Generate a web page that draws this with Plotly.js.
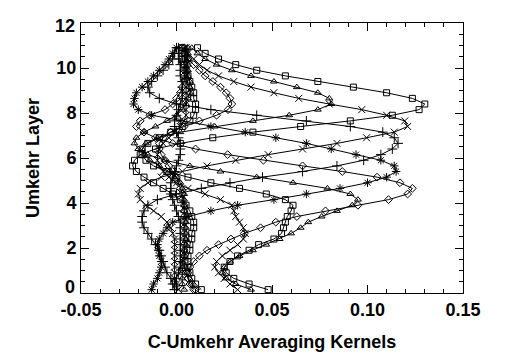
<!DOCTYPE html>
<html>
<head>
<meta charset="utf-8">
<script src="https://cdn.plot.ly/plotly-3.0.1.min.js"></script>
<style>
html,body{margin:0;padding:0;background:#fff;}
#chart{width:505px;height:360px;}
</style>
</head>
<body>
<div id="chart"></div>
<script>
// Umkehr layer (vertical coordinate) of each kernel point, bottom to top
const layers = [0.15,0.40,0.65,0.90,1.15,1.40,1.65,1.90,2.15,2.40,
  2.65,2.90,3.15,3.40,3.65,3.90,4.15,4.40,4.65,4.90,
  5.15,5.40,5.65,5.90,6.15,6.40,6.65,6.90,7.15,7.40,
  7.65,7.90,8.15,8.40,8.65,8.90,9.15,9.40,9.65,9.90,
  10.15,10.40,10.65,10.90];

// averaging kernel values (x), bottom to top, one array per kernel
const kTriUpper = [0.004,0.003,0.003,0.003,0.003,0.003,0.004,0.004,0.005,0.005,
  0.005,0.005,0.005,0.005,0.004,0.004,0.004,0.004,0.003,0.002,
  0.000,-0.004,-0.009,-0.014,-0.017,-0.018,-0.016,-0.010,0.002,0.020,
  0.040,0.059,0.074,0.081,0.080,0.074,0.063,0.051,0.039,0.029,
  0.021,0.015,0.011,0.008];
const kSqUpper = [0.013,0.010,0.008,0.007,0.006,0.006,0.006,0.007,0.007,0.008,
  0.008,0.009,0.009,0.008,0.007,0.005,0.002,-0.002,-0.007,-0.012,
  -0.017,-0.021,-0.023,-0.022,-0.019,-0.011,0.002,0.019,0.040,0.065,
  0.091,0.113,0.127,0.130,0.1235,0.110,0.0926,0.074,0.057,0.042,
  0.031,0.022,0.015,0.011];
const kXUpper = [0.001,0.000,-0.001,-0.001,-0.001,-0.001,-0.001,-0.001,-0.001,-0.001,
  -0.002,-0.003,-0.005,-0.008,-0.012,-0.016,-0.019,-0.020,-0.019,-0.015,
  -0.008,0.003,0.016,0.031,0.048,0.066,0.084,0.0995,0.114,0.121,
  0.1195,0.110,0.097,0.080,0.064,0.051,0.039,0.030,0.022,0.016,
  0.012,0.009,0.006,0.004];
const kPlusUpper = [-0.001,-0.002,-0.003,-0.005,-0.006,-0.007,-0.008,-0.009,-0.011,-0.013,
  -0.015,-0.017,-0.018,-0.018,-0.017,-0.015,-0.010,0.000,0.013,0.028,
  0.045,0.066,0.084,0.098,0.107,0.113,0.116,0.114,0.108,0.091,
  0.068,0.042,0.018,0.000,-0.009,-0.014,-0.015,-0.013,-0.010,-0.007,
  -0.004,-0.002,-0.001,0.000];
const kStar = [-0.013,-0.012,-0.010,-0.009,-0.008,-0.008,-0.009,-0.0095,-0.010,-0.009,
  -0.007,-0.005,-0.002,0.006,0.018,0.032,0.051,0.068,0.0856,0.100,
  0.110,0.115,0.114,0.107,0.094,0.081,0.068,0.052,0.036,0.018,
  0.002,-0.013,-0.020,-0.0225,-0.022,-0.021,-0.018,-0.015,-0.012,-0.009,
  -0.006,-0.004,-0.002,0.000];
const kDiaMain = [0.009,0.007,0.006,0.006,0.007,0.009,0.012,0.016,0.022,0.0285,
  0.0355,0.044,0.052,0.063,0.078,0.095,0.111,0.121,0.1235,0.117,
  0.105,0.0868,0.066,0.0455,0.0268,0.010,-0.002,-0.011,-0.017,-0.021,
  -0.019,-0.014,-0.006,-0.002,0.000,0.002,0.003,0.004,0.004,0.004,
  0.004,0.004,0.004,0.004];
const kTriLower = [0.039,0.031,0.026,0.024,0.025,0.028,0.033,0.040,0.047,0.054,
  0.060,0.065,0.069,0.076,0.084,0.092,0.095,0.091,0.079,0.061,
  0.042,0.023,0.007,-0.006,-0.015,-0.020,-0.022,-0.021,-0.017,-0.011,
  -0.005,0.000,0.003,0.005,0.006,0.007,0.007,0.007,0.006,0.006,
  0.006,0.006,0.006,0.006];
const kSqLower = [0.048,0.038,0.030,0.026,0.025,0.028,0.032,0.038,0.043,0.051,
  0.055,0.056,0.057,0.058,0.060,0.061,0.057,0.047,0.033,0.018,
  0.006,-0.005,-0.012,-0.016,-0.018,-0.018,-0.015,-0.009,-0.003,0.003,
  0.007,0.009,0.010,0.010,0.009,0.009,0.008,0.007,0.006,0.005,
  0.004,0.003,0.003,0.003];
const kXLower = [0.032,0.028,0.025,0.022,0.020,0.021,0.024,0.028,0.032,0.035,
  0.036,0.035,0.033,0.031,0.030,0.029,0.023,0.015,0.006,0.000,
  -0.004,-0.007,-0.009,-0.010,-0.010,-0.009,-0.007,-0.004,-0.001,0.002,
  0.004,0.005,0.005,0.005,0.005,0.005,0.005,0.005,0.005,0.005,
  0.005,0.005,0.005,0.005];
const kPlusLower = [-0.001,-0.001,0.000,0.001,0.002,0.002,0.002,0.002,0.002,0.002,
  0.002,0.002,0.002,0.001,0.000,-0.001,-0.002,-0.003,-0.003,-0.003,
  -0.002,-0.001,0.000,0.001,0.002,0.002,0.002,0.001,0.000,-0.001,
  -0.001,0.000,0.001,0.002,0.003,0.003,0.003,0.003,0.002,0.002,
  0.002,0.001,0.001,0.001];
const kDiaSecond = [0.010,0.008,0.006,0.005,0.004,0.004,0.004,0.004,0.004,0.004,
  0.004,0.004,0.004,0.004,0.004,0.004,0.003,0.003,0.002,0.001,
  0.000,-0.002,-0.004,-0.006,-0.008,-0.009,-0.009,-0.007,-0.003,0.004,
  0.012,0.021,0.027,0.029,0.028,0.026,0.023,0.019,0.015,0.012,
  0.009,0.006,0.004,0.003];

const kernels = [kTriUpper,kSqUpper,kXUpper,kPlusUpper,kStar,kDiaMain,kTriLower,kSqLower,kXLower,kPlusLower,kDiaSecond];
const symbols = ['triangle-up-open','square-open','x-thin-open','cross-thin-open','asterisk-open','diamond-open',
                 'triangle-up-open','square-open','x-thin-open','cross-thin-open','diamond-open'];
const sizes = {'triangle-up-open':6,'square-open':6,'x-thin-open':7,'cross-thin-open':7,'asterisk-open':7,'diamond-open':6};

const xTickLabels = ['-0.05','0.00','0.05','0.10','0.15'];
const xTickVals = [-0.05,0,0.05,0.10,0.15];
const yTickVals = [2,4,6,8,10];
const yTickLabels = ['2','4','6','8','10'];
const yEndLabels = ['0','12'];

const traces = kernels.map((k,i)=>({
  type:'scatter', mode:'lines+markers', x:k, y:layers,
  line:{color:'#000',width:1},
  marker:{symbol:symbols[i], size:sizes[symbols[i]], color:'#000', line:{color:'#000',width:1}},
  showlegend:false, hoverinfo:'skip'
}));

const font = {family:'Liberation Sans, Arial, Helvetica, sans-serif', size:18, color:'#000', weight:700};

const layout = {
  width:505, height:360,
  margin:{l:81,r:42,t:23,b:67},
  paper_bgcolor:'#fff', plot_bgcolor:'#fff',
  font:font,
  xaxis:{range:[-0.05,0.15], tickmode:'array', tickvals:xTickVals, ticktext:xTickLabels,
    ticks:'inside', ticklen:8, tickwidth:1, tickcolor:'#000',
    minor:{tickmode:'linear', tick0:-0.05, dtick:0.01, ticks:'inside', ticklen:4, tickwidth:1, tickcolor:'#000', showgrid:false},
    showline:true, linecolor:'#000', linewidth:1, mirror:'ticks',
    showgrid:false, zeroline:false, tickfont:font,
    title:{text:'C-Umkehr Averaging Kernels', font:font, standoff:16}},
  yaxis:{range:[0,12], tickmode:'array', tickvals:yTickVals, ticktext:yTickLabels,
    ticks:'inside', ticklen:8, tickwidth:1, tickcolor:'#000',
    minor:{tickmode:'linear', tick0:0, dtick:0.5, ticks:'inside', ticklen:4, tickwidth:1, tickcolor:'#000', showgrid:false},
    showline:true, linecolor:'#000', linewidth:1, mirror:'ticks',
    showgrid:false, zeroline:false, tickfont:font,
    title:{text:'Umkehr Layer', font:font, standoff:12}},
  annotations:[
    {text:yEndLabels[0], xref:'paper', yref:'y', x:0, y:0.25, xanchor:'right', yanchor:'middle', xshift:-4, showarrow:false, font:font},
    {text:yEndLabels[1], xref:'paper', yref:'y', x:0, y:11.85, xanchor:'right', yanchor:'middle', xshift:-4, showarrow:false, font:font}
  ]
};

Plotly.newPlot('chart', traces, layout, {staticPlot:true, displayModeBar:false});
</script>
</body>
</html>
